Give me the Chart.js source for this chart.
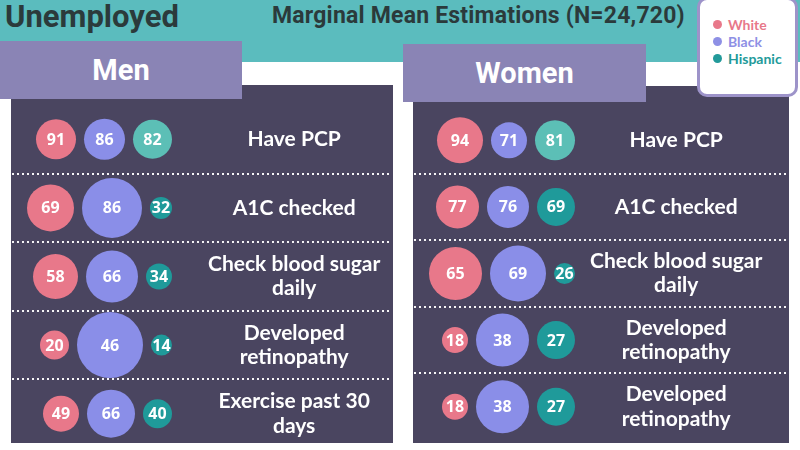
<!DOCTYPE html>
<html>
<head>
<meta charset="utf-8">
<script src="https://cdn.jsdelivr.net/npm/chart.js@4/dist/chart.umd.min.js"></script>
<style>
  html, body { margin:0; padding:0; background:#fff; }
  #stage { position:relative; width:800px; height:450px; overflow:hidden; background:#fff; }
  .band { position:absolute; left:0; top:0; width:800px; height:62px; background:#5bbcbe; }
  .title { position:absolute; left:5px; top:1px; font:700 31px/1 Roboto, sans-serif; color:#2b3a3b; white-space:nowrap; }
  .subtitle { position:absolute; left:272px; top:4px; font:700 23px/1 Roboto, sans-serif; letter-spacing:0.2px; color:#2b3a3b; white-space:nowrap; }
  .panel { position:absolute; background:#4a4560; }
  .tab { position:absolute; background:#8a84b5; color:#fff; font:700 29px/58px Roboto, sans-serif; text-align:center; height:58px; }
  canvas { position:absolute; }
  .legend { position:absolute; left:697px; top:-3px; width:95px; height:94px; background:#fff; border:3px solid #9d93c9; border-radius:10px; }
  .legend div { position:absolute; left:28px; font:700 14px/1 Lato, sans-serif; white-space:nowrap; }
  .legend span { position:absolute; left:-15px; top:2px; width:9px; height:9px; border-radius:50%; }
</style>
</head>
<body>
<div id="stage">
  <div class="band"></div>
  <div class="title">Unemployed</div>
  <div class="subtitle">Marginal Mean Estimations (N=24,720)</div>
  <div class="panel" style="left:11px;top:85px;width:382px;height:358px"></div>
  <div class="panel" style="left:413px;top:86px;width:376px;height:357px"></div>
  <canvas id="menChart" width="382" height="376" style="left:11px;top:85px"></canvas>
  <canvas id="womenChart" width="376" height="367" style="left:413px;top:86px"></canvas>
  <div class="tab" style="left:0;top:41px;width:242px">Men</div>
  <div class="tab" style="left:403px;top:44px;width:243px">Women</div>
  <div class="legend">
    <div style="top:18px;color:#e8788a"><span style="background:#e8788a"></span>White</div>
    <div style="top:35px;color:#8e90e5"><span style="background:#8e90e5"></span>Black</div>
    <div style="top:52px;color:#229a9a"><span style="background:#229a9a"></span>Hispanic</div>
  </div>
</div>
<script>
// ---- Data ----
const races = ["White", "Black", "Hispanic"];

const menRows = ["Have PCP", "A1C checked", ["Check blood sugar", "daily"], ["Developed", "retinopathy"], ["Exercise past 30", "days"]];
const menWhite    = [91, 69, 58, 20, 49];
const menBlack    = [86, 86, 66, 46, 66];
const menHispanic = [82, 32, 34, 14, 40];
// bubble size (third bubble dimension)
const menWhiteSize    = [20, 23.5, 22.5, 14.5, 18];
const menBlackSize    = [20.5, 30, 26, 33, 24];
const menHispanicSize = [19.5, 11, 13, 10.5, 14.5];

const womenRows = ["Have PCP", "A1C checked", ["Check blood sugar", "daily"], ["Developed", "retinopathy"], ["Developed", "retinopathy"]];
const womenWhite    = [94, 77, 65, 18, 18];
const womenBlack    = [71, 76, 69, 38, 38];
const womenHispanic = [81, 69, 26, 27, 27];
const womenWhiteSize    = [23, 21.5, 26.5, 13, 13];
const womenBlackSize    = [18, 21, 28, 26.5, 26.5];
const womenHispanicSize = [20, 19, 10.5, 19, 19];

// ---- Styles ----
const PINK = "#e8788a", LAV = "#8a8ee8", TEAL_LIGHT = "#5cbfb6", TEAL = "#1f9a9a";

// Build bubble datasets: bubbles in each row packed right-to-left from an anchor
function buildDatasets(values, sizes, anchor, gap) {
  const n = values[0].length;
  const xs = values.map(() => new Array(n));
  for (let i = 0; i < n; i++) {
    let edge = anchor;
    for (let s = values.length - 1; s >= 0; s--) {
      const r = sizes[s][i];
      xs[s][i] = edge - r;
      edge = edge - 2 * r - gap;
    }
  }
  const colors = [PINK, LAV, (ctx) => ctx.dataIndex === 0 ? TEAL_LIGHT : TEAL];
  return values.map((vals, s) => ({
    label: races[s],
    data: vals.map((v, i) => ({ x: xs[s][i], y: i, r: sizes[s][i], v: v })),
    backgroundColor: colors[s],
    borderWidth: 0,
    hoverRadius: 0,
    clip: false
  }));
}

const separatorPlugin = {
  id: "separators",
  beforeDatasetsDraw(chart) {
    const ys = chart.scales.y;
    const ctx = chart.ctx;
    const n = ys.getLabels().length;
    ctx.save();
    ctx.strokeStyle = "rgba(255,255,255,0.95)";
    ctx.lineWidth = 2;
    ctx.setLineDash([2, 3]);
    for (let i = 0; i < n - 1; i++) {
      const y = Math.round((ys.getPixelForValue(i) + ys.getPixelForValue(i + 1)) / 2);
      ctx.beginPath();
      ctx.moveTo(1, y);
      ctx.lineTo(chart.width - 1, y);
      ctx.stroke();
    }
    ctx.restore();
  }
};

const valuePlugin = {
  id: "bubbleValues",
  afterDatasetsDraw(chart) {
    const ctx = chart.ctx;
    ctx.save();
    ctx.fillStyle = "#ffffff";
    ctx.font = "700 16px 'Open Sans', sans-serif";
    ctx.textAlign = "center";
    ctx.textBaseline = "middle";
    chart.data.datasets.forEach((ds, di) => {
      const meta = chart.getDatasetMeta(di);
      meta.data.forEach((el, i) => {
        ctx.fillText(String(ds.data[i].v), el.x, el.y + 1);
      });
    });
    ctx.restore();
  }
};

function makeChart(id, rows, values, sizes, chartW, axisW, anchor, padTop, padBottom) {
  return new Chart(document.getElementById(id), {
    type: "bubble",
    data: { datasets: buildDatasets(values, sizes, anchor, 8) },
    options: {
      responsive: false,
      animation: false,
      events: [],
      layout: { autoPadding: false, padding: { top: padTop, bottom: padBottom, left: 0, right: 0 } },
      plugins: { legend: { display: false }, tooltip: { enabled: false } },
      scales: {
        x: { type: "linear", min: 0, max: chartW, display: false },
        y: {
          type: "category",
          labels: rows,
          offset: true,
          position: "right",
          grid: { display: false, drawTicks: false },
          border: { display: false },
          afterFit: (s) => { s.width = axisW; s.paddingTop = 0; s.paddingBottom = 0; },
          ticks: {
            color: "#ffffff",
            crossAlign: "center",
            padding: 0,
            font: { family: "Lato", weight: "bold", size: 21, lineHeight: 1.15 }
          }
        }
      }
    },
    plugins: [separatorPlugin, valuePlugin]
  });
}

makeChart("menChart", menRows,
  [menWhite, menBlack, menHispanic],
  [menWhiteSize, menBlackSize, menHispanicSize],
  197, 185, 161, 20, 13);

makeChart("womenChart", womenRows,
  [womenWhite, womenBlack, womenHispanic],
  [womenWhiteSize, womenBlackSize, womenHispanicSize],
  177, 199, 162, 21, 13);
</script>
</body>
</html>
